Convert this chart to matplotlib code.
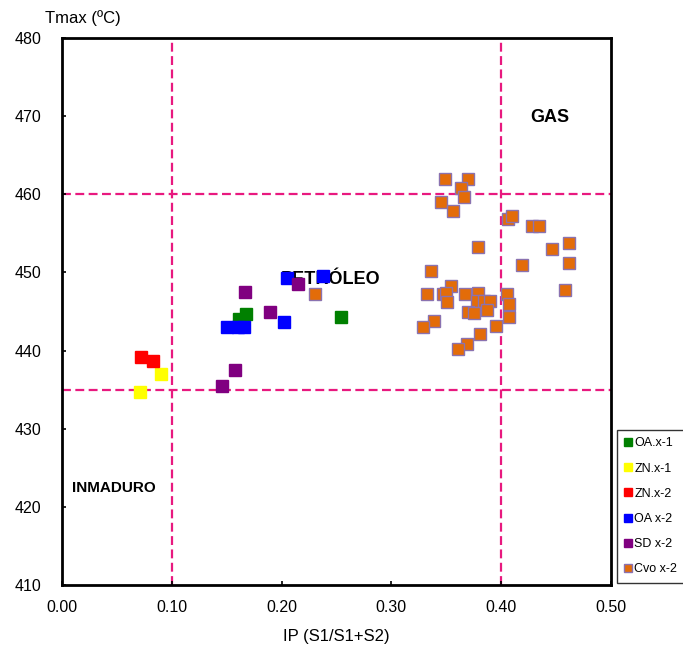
import matplotlib
matplotlib.use("Agg")
import matplotlib.pyplot as plt

plt.rcParams["font.family"] = ["Liberation Sans", "DejaVu Sans"]

# IP (S1/S1+S2) and Tmax (ºC) per sample group
oa_x1_ip = [0.161, 0.168, 0.254]
oa_x1_tmax = [444.0, 444.7, 444.3]

zn_x1_ip = [0.090, 0.071]
zn_x1_tmax = [437.0, 434.7]

zn_x2_ip = [0.072, 0.083]
zn_x2_tmax = [439.2, 438.7]

oa_x2_ip = [0.150, 0.160, 0.166, 0.202, 0.205, 0.238]
oa_x2_tmax = [443.0, 443.0, 443.0, 443.7, 449.3, 449.5]

sd_x2_ip = [0.146, 0.158, 0.167, 0.189, 0.215]
sd_x2_tmax = [435.5, 437.5, 447.5, 444.9, 448.5]

cvo_x2_ip = [0.230, 0.349, 0.370, 0.363, 0.366, 0.345, 0.356, 0.379,
             0.406, 0.410, 0.428, 0.434, 0.446, 0.462, 0.462, 0.419,
             0.458, 0.405, 0.336, 0.332, 0.347, 0.354, 0.350, 0.351,
             0.367, 0.379, 0.378, 0.384, 0.390, 0.370, 0.375, 0.387,
             0.407, 0.407, 0.339, 0.329, 0.395, 0.381, 0.369, 0.361]
cvo_x2_tmax = [447.2, 461.9, 461.9, 460.8, 459.7, 459.0, 457.9, 453.3,
               456.9, 457.2, 455.9, 455.9, 453.0, 453.8, 451.2, 450.9,
               447.8, 447.3, 450.2, 447.2, 447.2, 448.2, 447.4, 446.2,
               447.2, 447.4, 446.3, 446.3, 446.3, 444.9, 444.8, 445.2,
               445.9, 444.3, 443.8, 443.0, 443.2, 442.1, 440.9, 440.2]

series = [
    ("OA.x-1", oa_x1_ip, oa_x1_tmax, "#008000", "#008000", 8.5),
    ("ZN.x-1", zn_x1_ip, zn_x1_tmax, "#ffff00", "#ffff00", 8.5),
    ("ZN.x-2", zn_x2_ip, zn_x2_tmax, "#ff0000", "#ff0000", 8.5),
    ("OA x-2", oa_x2_ip, oa_x2_tmax, "#0000ff", "#0000ff", 8.5),
    ("SD x-2", sd_x2_ip, sd_x2_tmax, "#800080", "#800080", 8.5),
    ("Cvo x-2", cvo_x2_ip, cvo_x2_tmax, "#e36c09", "#8a72b0", 9.3),
]

fig = plt.figure(figsize=(6.83, 6.54), dpi=100)
ax = fig.add_axes([0.0908, 0.1055, 0.8038, 0.8364])

guide = "#e8197f"
for xv in (0.10, 0.40):
    ax.axvline(xv, color=guide, ls=(0, (4, 2)), lw=1.6, zorder=1)
for yv in (435, 460):
    ax.axhline(yv, color=guide, ls=(0, (4, 2)), lw=1.6, zorder=1)

for name, xs, ys, fc, ec, ms in series:
    ax.plot(xs, ys, "s", ms=ms, mfc=fc, mec=ec, mew=1.0, ls="none",
            label=name, zorder=3)

ax.text(0.444, 469.8, "GAS", fontsize=13, fontweight="bold",
        ha="center", va="center")
ax.text(0.245, 449.1, "PETRÓLEO", fontsize=13, fontweight="bold",
        ha="center", va="center", zorder=2)
ax.text(0.047, 422.4, "INMADURO", fontsize=11, fontweight="bold",
        ha="center", va="center")

ax.set_xlim(0, 0.5)
ax.set_ylim(410, 480)
ax.set_xticks([0, 0.1, 0.2, 0.3, 0.4, 0.5])
ax.set_xticklabels(["0.00", "0.10", "0.20", "0.30", "0.40", "0.50"])
ax.set_yticks(range(410, 481, 10))
ax.tick_params(direction="in", length=3, width=1.2, labelsize=11.5)
ax.tick_params(axis="y", pad=15)
ax.tick_params(axis="x", pad=11)
for sp in ax.spines.values():
    sp.set_linewidth(2)

ax.set_xlabel("IP (S1/S1+S2)", fontsize=12, labelpad=10)
fig.text(0.066, 0.973, "Tmax (ºC)", fontsize=12, ha="left", va="center")

leg = fig.legend(loc="upper left", bbox_to_anchor=(617 / 683, 1 - 430 / 654),
                 fontsize=9, markerscale=0.65, handlelength=0.5,
                 handletextpad=0.3, labelspacing=1.05, borderpad=0.6,
                 borderaxespad=0, frameon=True, fancybox=False,
                 edgecolor="black")
leg.get_frame().set_linewidth(1.0)

fig.savefig("out.png", dpi=100)
